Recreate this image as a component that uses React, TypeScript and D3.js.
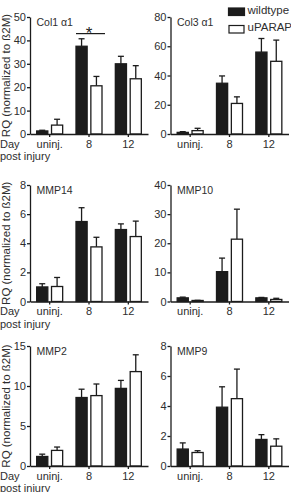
import { useEffect, useRef } from 'react'
import * as d3 from 'd3'

const GROUPS = ['uninj.', '8', '12']
const SERIES = ['wildtype', 'uPARAP']

// mean / upper SEM per group, wildtype and knockout
const COL1_WT = [1.3, 37.5, 30.0]
const COL1_WT_SEM = [0.3, 3.2, 3.2]
const COL1_KO = [3.8, 20.6, 23.6]
const COL1_KO_SEM = [2.5, 4.0, 5.6]

const COL3_WT = [1.1, 34.7, 56.0]
const COL3_WT_SEM = [0.5, 5.0, 9.3]
const COL3_KO = [2.3, 20.9, 49.7]
const COL3_KO_SEM = [1.6, 4.5, 14.5]

const MMP14_WT = [1.0, 5.49, 4.94]
const MMP14_WT_SEM = [0.22, 0.95, 0.39]
const MMP14_KO = [1.03, 3.75, 4.46]
const MMP14_KO_SEM = [0.62, 0.66, 1.06]

const MMP10_WT = [1.25, 10.25, 1.25]
const MMP10_WT_SEM = [0.25, 4.65, 0.15]
const MMP10_KO = [0.35, 21.4, 0.7]
const MMP10_KO_SEM = [0.05, 10.3, 0.4]

const MMP2_WT = [1.19, 8.56, 9.7]
const MMP2_WT_SEM = [0.29, 1.04, 1.0]
const MMP2_KO = [1.95, 8.8, 11.8]
const MMP2_KO_SEM = [0.42, 1.45, 2.1]

const MMP9_WT = [1.13, 3.92, 1.77]
const MMP9_WT_SEM = [0.41, 1.36, 0.32]
const MMP9_KO = [0.9, 4.49, 1.32]
const MMP9_KO_SEM = [0.12, 1.97, 0.49]

const COL1_TICKS = [0, 10, 20, 30, 40, 50]
const COL3_TICKS = [0, 20, 40, 60, 80]
const MMP14_TICKS = [0, 2, 4, 6, 8]
const MMP10_TICKS = [0, 10, 20, 30, 40]
const MMP2_TICKS = [0, 5, 10, 15]
const MMP9_TICKS = [0, 2, 4, 6, 8]

// Col1 day 8 significance bar
const COL1_SIG_GROUP = '8'
const COL1_SIG_VALUE = 42.9

const WIDTH = 291
const HEIGHT = 492
const FONT = 'Liberation Sans, Arial, Helvetica, sans-serif'
const INK = '#1c1c1c'
const TEXT = '#2e2e2e'

interface PanelDef {
  title: string
  col: number
  row: number
  ticks: number[]
  wt: number[]
  wtSem: number[]
  ko: number[]
  koSem: number[]
}

const PANELS: PanelDef[] = [
  { title: 'Col1 \u03b11', col: 0, row: 0, ticks: COL1_TICKS, wt: COL1_WT, wtSem: COL1_WT_SEM, ko: COL1_KO, koSem: COL1_KO_SEM },
  { title: 'Col3 \u03b11', col: 1, row: 0, ticks: COL3_TICKS, wt: COL3_WT, wtSem: COL3_WT_SEM, ko: COL3_KO, koSem: COL3_KO_SEM },
  { title: 'MMP14', col: 0, row: 1, ticks: MMP14_TICKS, wt: MMP14_WT, wtSem: MMP14_WT_SEM, ko: MMP14_KO, koSem: MMP14_KO_SEM },
  { title: 'MMP10', col: 1, row: 1, ticks: MMP10_TICKS, wt: MMP10_WT, wtSem: MMP10_WT_SEM, ko: MMP10_KO, koSem: MMP10_KO_SEM },
  { title: 'MMP2', col: 0, row: 2, ticks: MMP2_TICKS, wt: MMP2_WT, wtSem: MMP2_WT_SEM, ko: MMP2_KO, koSem: MMP2_KO_SEM },
  { title: 'MMP9', col: 1, row: 2, ticks: MMP9_TICKS, wt: MMP9_WT, wtSem: MMP9_WT_SEM, ko: MMP9_KO, koSem: MMP9_KO_SEM },
]

const COL_X = [30, 170.5]
const ROW_Y: [number, number][] = [
  [17, 134],
  [185, 301.5],
  [346, 466],
]
const PLOT_W = 118

interface BarDatum {
  group: string
  series: string
  value: number
  sem: number
}

function ChartPanel({ panel }: { panel: PanelDef }) {
  const ref = useRef<SVGGElement | null>(null)

  useEffect(() => {
    if (!ref.current) return
    const g = d3.select(ref.current)
    g.selectAll('*').remove()

    const [top, bottom] = ROW_Y[panel.row]
    const yMax = panel.ticks[panel.ticks.length - 1]
    const x = d3.scaleBand<string>().domain(GROUPS).range([0, PLOT_W])
    const inner = d3.scaleBand<string>().domain(SERIES).range([-13, 13]).paddingInner(0.25)
    const y = d3.scaleLinear().domain([0, yMax]).range([bottom - top, 0])
    const center = (grp: string) => (x(grp) ?? 0) + x.bandwidth() / 2

    const bars: BarDatum[] = GROUPS.flatMap((grp, i) => [
      { group: grp, series: SERIES[0], value: panel.wt[i], sem: panel.wtSem[i] },
      { group: grp, series: SERIES[1], value: panel.ko[i], sem: panel.koSem[i] },
    ])

    const barX = (d: BarDatum) => center(d.group) + (inner(d.series) ?? 0)
    const bw = inner.bandwidth()

    // error bars (upper only)
    const err = g.append('g')
    err
      .selectAll('line.stem')
      .data(bars)
      .enter()
      .append('line')
      .attr('x1', (d: BarDatum) => barX(d) + bw / 2)
      .attr('x2', (d: BarDatum) => barX(d) + bw / 2)
      .attr('y1', (d: BarDatum) => y(d.value))
      .attr('y2', (d: BarDatum) => y(d.value + d.sem))
      .attr('stroke', INK)
      .attr('stroke-width', 1.3)
    err
      .selectAll('line.cap')
      .data(bars)
      .enter()
      .append('line')
      .attr('x1', (d: BarDatum) => barX(d) + bw / 2 - 3)
      .attr('x2', (d: BarDatum) => barX(d) + bw / 2 + 3)
      .attr('y1', (d: BarDatum) => y(d.value + d.sem))
      .attr('y2', (d: BarDatum) => y(d.value + d.sem))
      .attr('stroke', INK)
      .attr('stroke-width', 1.3)

    g.append('g')
      .selectAll('rect')
      .data(bars)
      .enter()
      .append('rect')
      .attr('x', barX)
      .attr('y', (d: BarDatum) => y(d.value))
      .attr('width', bw)
      .attr('height', (d: BarDatum) => y(0) - y(d.value))
      .attr('fill', (d: BarDatum) => (d.series === SERIES[0] ? INK : '#fff'))
      .attr('stroke', INK)
      .attr('stroke-width', 1.3)

    const yAxis = g
      .append('g')
      .call(d3.axisLeft(y).tickValues(panel.ticks).tickSize(3).tickSizeOuter(0).tickPadding(1))
    const xAxis = g
      .append('g')
      .attr('transform', `translate(0,${y(0)})`)
      .call(d3.axisBottom(x).tickSize(3).tickSizeOuter(0).tickPadding(3))

    for (const ax of [yAxis, xAxis]) {
      ax.selectAll('path, line').attr('stroke', INK).attr('stroke-width', 1.3)
      ax.selectAll('text')
        .attr('font-family', FONT)
        .attr('font-size', 11)
        .attr('fill', TEXT)
      ax.attr('font-family', null)
    }

    g.append('text')
      .attr('x', 6.5)
      .attr('y', 9)
      .attr('font-family', FONT)
      .attr('font-size', 10.5)
      .attr('fill', TEXT)
      .text(panel.title)

    if (panel.title.startsWith('Col1')) {
      const cx = center(COL1_SIG_GROUP)
      const sy = y(COL1_SIG_VALUE)
      g.append('line')
        .attr('x1', cx - 13)
        .attr('x2', cx + 16)
        .attr('y1', sy)
        .attr('y2', sy)
        .attr('stroke', INK)
        .attr('stroke-width', 1.2)
      g.append('text')
        .attr('x', cx)
        .attr('y', sy + 5)
        .attr('text-anchor', 'middle')
        .attr('font-family', FONT)
        .attr('font-size', 17)
        .attr('fill', INK)
        .text('*')
    }
  }, [panel])

  const [top] = ROW_Y[panel.row]
  return <g ref={ref} transform={`translate(${COL_X[panel.col]},${top})`} />
}

export default function App() {
  const textProps = { fontFamily: FONT, fontSize: 11, fill: TEXT }
  return (
    <svg
      width={WIDTH}
      height={HEIGHT}
      style={{ position: 'absolute', left: 0, top: 0, background: '#fff' }}
    >
      <rect width={WIDTH} height={HEIGHT} fill="#fff" />
      {PANELS.map((p) => (
        <ChartPanel key={p.title} panel={p} />
      ))}
      {ROW_Y.map(([top, bottom], i) => (
        <g key={i}>
          <text
            {...textProps}
            fontSize={11.5}
            transform={`translate(9.5,${(top + bottom) / 2}) rotate(-90)`}
            textAnchor="middle"
          >
            RQ (normalized to ß2M)
          </text>
          <text {...textProps} x={0} y={bottom + 13.5}>
            Day
          </text>
          <text {...textProps} x={0} y={bottom + 26}>
            post injury
          </text>
        </g>
      ))}
      <g>
        <rect x={228.5} y={8} width={16} height={7.5} fill={INK} stroke={INK} strokeWidth={1.2} />
        <rect x={229} y={25.5} width={15} height={7.5} fill="#fff" stroke={INK} strokeWidth={1.2} />
        <text {...textProps} fontSize={11.5} x={247.5} y={13.5}>
          {SERIES[0]}
        </text>
        <text {...textProps} fontSize={11.5} x={247.5} y={31}>
          {SERIES[1]}
        </text>
      </g>
    </svg>
  )
}
